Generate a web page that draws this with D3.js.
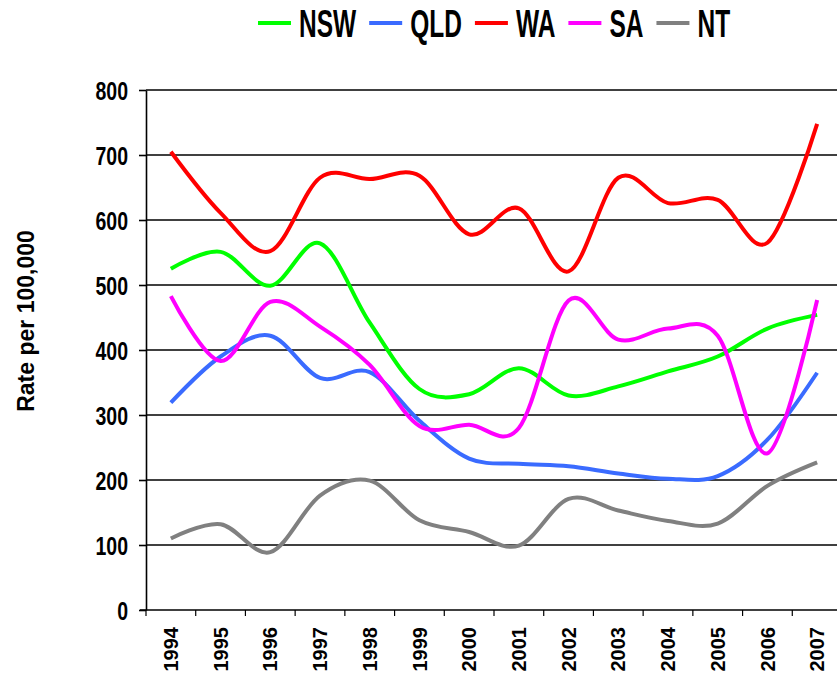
<!DOCTYPE html>
<html>
<head>
<meta charset="utf-8">
<script src="https://cdn.jsdelivr.net/npm/d3@7"></script>
<style>
  body { margin: 0; background: #fff; }
  text { font-family: Arial, "Liberation Sans", sans-serif; font-weight: bold; fill: #000; }
</style>
</head>
<body>
<div id="chart"></div>
<script>
// rates per 100,000
const years = [1994, 1995, 1996, 1997, 1998, 1999, 2000, 2001, 2002, 2003, 2004, 2005, 2006, 2007]
const nsw = [525, 551, 499, 564, 442, 340, 332, 372, 330, 344, 367, 390, 433, 454]
const qld = [319, 390, 422, 357, 366, 291, 233, 225, 221, 210, 202, 206, 262, 365]
const wa = [705, 611, 552, 665, 663, 668, 578, 618, 521, 665, 626, 631, 565, 748]
const sa = [483, 383, 474, 436, 377, 283, 285, 280, 476, 416, 433, 422, 241, 477]
const nt = [110, 132, 89, 176, 199, 138, 120, 99, 171, 153, 137, 133, 191, 227]
const yTicks = [0, 100, 200, 300, 400, 500, 600, 700, 800]

const seriesNames = ['NSW', 'QLD', 'WA', 'SA', 'NT']
const seriesValues = [nsw, qld, wa, sa, nt]
const seriesColors = ['#00ff00', '#3a6bff', '#ff0000', '#ff00ff', '#808080']

const fullWidth = 837
const fullHeight = 675
// plot area runs a bit past the right edge, like the original
const margin = {top: 90, left: 146, right: -5, bottom: 65}
const width = fullWidth - margin.left - margin.right
const height = fullHeight - margin.top - margin.bottom

const svg = d3.select('#chart').append('svg')
  .attr('width', fullWidth)
  .attr('height', fullHeight)

const g = svg.append('g')
  .attr('transform', 'translate(' + margin.left + ',' + margin.top + ')')

const x = d3.scaleBand()
  .domain(years)
  .range([0, width])

const y = d3.scaleLinear()
  .domain([0, 800])
  .range([height, 0])

// horizontal grid lines
g.append('g').selectAll('line')
  .data(yTicks.filter(d => d > 0))
  .enter().append('line')
  .attr('x1', 0)
  .attr('x2', width)
  .attr('y1', d => y(d))
  .attr('y2', d => y(d))
  .attr('stroke', '#000')
  .attr('stroke-width', 1.6)

// series lines, smoothed like excel does it
const line = d3.line()
  .x((d, i) => x(years[i]) + x.bandwidth() / 2)
  .y(d => y(d))
  .curve(d3.curveCardinal.tension(0))

g.append('g').selectAll('path')
  .data(seriesValues)
  .enter().append('path')
  .attr('d', d => line(d))
  .attr('fill', 'none')
  .attr('stroke', (d, i) => seriesColors[i])
  .attr('stroke-width', 4)
  .attr('stroke-linejoin', 'round')

// y axis
const yAxis = g.append('g')
  .call(d3.axisLeft(y).tickValues(yTicks).tickSize(7).tickSizeOuter(0).tickPadding(0))
yAxis.select('.domain').attr('stroke', '#000').attr('stroke-width', 1.6)
yAxis.selectAll('.tick line').attr('stroke', '#000').attr('stroke-width', 1.6)
yAxis.selectAll('.tick text')
  .attr('x', -18 / 0.78)
  .attr('dy', '0.36em')
  .attr('transform', 'scale(0.78,1)')
  .style('font-size', '25px')

// x axis: labels in the middle of each band, ticks on the band edges
const xAxis = g.append('g')
  .attr('transform', 'translate(0,' + height + ')')
  .call(d3.axisBottom(x).tickSize(0).tickPadding(0))
xAxis.select('.domain').remove()
xAxis.selectAll('.tick text')
  .attr('transform', 'rotate(-90)')
  .attr('x', -17)
  .attr('y', 0)
  .attr('dy', '0.36em')
  .style('text-anchor', 'end')
  .style('font-size', '20px')

xAxis.append('line')
  .attr('x1', -6)
  .attr('x2', width)
  .attr('stroke', '#000')
  .attr('stroke-width', 1.6)

xAxis.selectAll('line.edge')
  .data(years)
  .enter().append('line')
  .classed('edge', true)
  .attr('x1', d => x(d))
  .attr('x2', d => x(d))
  .attr('y1', 0)
  .attr('y2', 6)
  .attr('stroke', '#000')
  .attr('stroke-width', 1.2)

// y axis title
svg.append('g')
  .attr('transform', 'translate(26,321)')
  .append('text')
  .attr('transform', 'rotate(-90)')
  .attr('dy', '0.36em')
  .style('text-anchor', 'middle')
  .style('font-size', '23px')
  .text('Rate per 100,000')

// legend across the top
const legend = svg.append('g').attr('transform', 'translate(258,0)')
let lx = 0
seriesNames.forEach(function(name, i) {
  legend.append('line')
    .attr('x1', lx)
    .attr('x2', lx + 33)
    .attr('y1', 23)
    .attr('y2', 23)
    .attr('stroke', seriesColors[i])
    .attr('stroke-width', 4)
  const t = legend.append('text')
    .attr('transform', 'translate(' + (lx + 41) + ',37) scale(0.645,1)')
    .style('font-size', '38px')
    .text(name)
  lx += 41 + t.node().getComputedTextLength() * 0.645 + 13
})
</script>
</body>
</html>
